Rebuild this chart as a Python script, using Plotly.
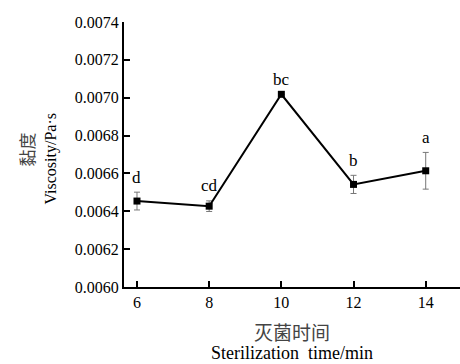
import plotly.graph_objects as go

times = [6, 8, 10, 12, 14]
viscosity = [0.006454, 0.006427, 0.007018, 0.006542, 0.006614]
errors = [0.000047, 0.000028, 0.0, 0.000048, 0.000097]
letters = ["d", "cd", "bc", "b", "a"]
y_ticks = [0.0060, 0.0062, 0.0064, 0.0066, 0.0068, 0.0070, 0.0072, 0.0074]
x_ticks = [6, 8, 10, 12, 14]

serif = "Liberation Serif"
cjk = "Noto Sans CJK SC"

fig = go.Figure()
fig.add_trace(go.Scatter(
    x=times, y=viscosity, mode="lines+markers",
    line=dict(color="black", width=2),
    marker=dict(symbol="square", size=7, color="black"),
    error_y=dict(type="data", array=errors, visible=True, color="#777777", thickness=1, width=3),
    showlegend=False, cliponaxis=False,
))

for x, y, e, t in zip(times, viscosity, errors, letters):
    fig.add_annotation(x=x, y=y + e, text=t, showarrow=False, yanchor="middle",
                       yshift=15, font=dict(family=serif, size=17, color="black"))

fig.add_annotation(xref="paper", yref="paper", x=0.5, y=0, yshift=-44, text="灭菌时间",
                   showarrow=False, yanchor="middle", font=dict(family=cjk, size=19, color="#444444"))
fig.add_annotation(xref="paper", yref="paper", x=0.5, y=0, yshift=-66, text="Sterilization  time/min",
                   showarrow=False, yanchor="middle", font=dict(family=serif, size=18, color="black"))
fig.add_annotation(xref="paper", yref="paper", x=0, xshift=-98, y=0.5, yshift=5, text="黏度",
                   textangle=-90, showarrow=False, xanchor="center", yanchor="middle",
                   font=dict(family=cjk, size=17, color="#444444"))
fig.add_annotation(xref="paper", yref="paper", x=0, xshift=-74, y=0.5, yshift=-5, text="Viscosity/Pa·s",
                   textangle=-90, showarrow=False, xanchor="center", yanchor="middle",
                   font=dict(family=serif, size=16, color="black"))

fig.update_layout(
    width=460, height=364,
    margin=dict(l=124, r=0, t=22, b=77),
    plot_bgcolor="white", paper_bgcolor="white",
    xaxis=dict(range=[5.64, 14.95], tickvals=x_ticks, ticks="inside", ticklen=6, tickwidth=2,
               tickcolor="black", showline=True, linewidth=2, linecolor="black", showgrid=False,
               zeroline=False, tickfont=dict(family=serif, size=16, color="black")),
    yaxis=dict(range=[0.0060, 0.0074], tickvals=y_ticks, tickformat=".4f", ticks="inside",
               ticklen=6, tickwidth=2, tickcolor="black", showline=True, linewidth=2,
               linecolor="black", showgrid=False, zeroline=False,
               tickfont=dict(family=serif, size=16, color="black")),
)

fig.write_html("out.html")
